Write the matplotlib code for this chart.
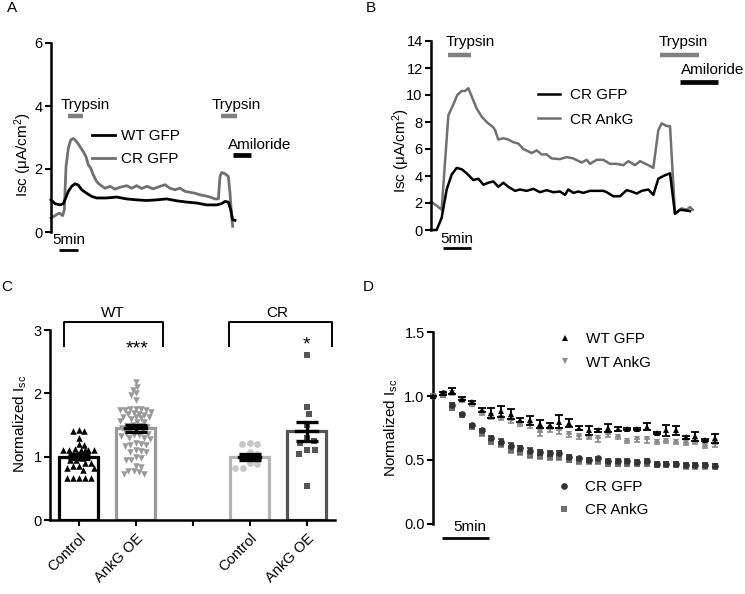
import numpy as np
import matplotlib
matplotlib.use("Agg")
import matplotlib.pyplot as plt

plt.rcParams['font.family'] = ['Liberation Sans', 'DejaVu Sans']
plt.rcParams['mathtext.fontset'] = 'custom'
plt.rcParams['mathtext.rm'] = 'Liberation Sans'
plt.rcParams['mathtext.it'] = 'Liberation Sans:italic'

# ---------------- DATA ----------------
# Panel A (time in min, Isc in uA/cm2)
a_wt_t = [0, 1.05, 2.37, 3.25, 3.86, 4.56, 5.44, 6.32, 7.19, 8.07, 9.39, 10.70, 12.02, 14.65,
          17.28, 19.91, 22.54, 25.18, 27.81, 30.44, 33.07, 35.70, 38.33, 40.96, 43.60, 44.91,
          45.79, 46.67, 47.28, 47.81, 48.42]
a_wt_v = [1.02, 0.90, 0.86, 0.90, 1.08, 1.29, 1.45, 1.53, 1.49, 1.34, 1.23, 1.13, 1.08, 1.08,
          1.11, 1.05, 1.02, 1.00, 1.02, 1.05, 0.99, 0.95, 0.92, 0.86, 0.86, 0.90,
          0.97, 0.95, 0.71, 0.39, 0.37]
a_cr_t = [0, 1.05, 2.19, 3.07, 3.51, 3.95, 4.56, 5.18, 5.88, 6.75, 7.63, 8.51, 9.21, 9.82,
          10.44, 11.14, 12.02, 12.89, 14.21, 15.53, 16.84, 18.16, 19.91, 21.23, 22.54, 23.86,
          25.18, 26.93, 28.68, 30.0, 31.32, 32.63, 33.95, 35.26, 36.58, 37.89, 39.21, 40.53,
          41.84, 43.16, 44.04, 44.47, 44.91, 45.79, 46.67, 47.11, 47.54, 47.81]
a_cr_v = [0.44, 0.52, 0.60, 0.52, 0.71, 2.08, 2.66, 2.92, 2.97, 2.87, 2.71, 2.55, 2.39, 2.13,
          2.03, 1.81, 1.60, 1.50, 1.39, 1.45, 1.36, 1.42, 1.47, 1.39, 1.47, 1.38,
          1.45, 1.37, 1.45, 1.50, 1.39, 1.34, 1.39, 1.29, 1.26, 1.23, 1.18, 1.15,
          1.11, 1.05, 1.05, 1.76, 1.89, 1.85, 1.76, 1.23, 0.50, 0.18]
a_trypsin = [(4.4, 8.3), (44.7, 48.9)]
a_amiloride = (48.0, 52.5)

# Panel B
b_gfp_t = [0, 1.01, 1.90, 2.80, 3.69, 4.58, 5.48, 6.37, 7.56, 8.45, 9.35, 10.24, 11.13, 12.02,
           12.92, 13.81, 15.0, 15.89, 17.08, 18.27, 19.46, 20.65, 21.85, 23.04, 23.93, 24.52,
           25.42, 26.31, 27.20, 28.39, 30.77, 31.37, 32.56, 33.75, 34.94, 35.83, 36.73, 37.62,
           38.81, 39.70, 40.60, 41.49, 42.68, 43.57, 44.46, 45.36, 46.25]
b_gfp_v = [0.0, 0.0, 0.9, 3.0, 4.1, 4.6, 4.5, 4.2, 3.7, 3.8, 3.35, 3.5, 3.6, 3.2,
           3.5, 3.2, 2.9, 3.0, 2.9, 3.05, 2.8, 2.95, 2.8, 2.85, 2.6, 3.0,
           2.75, 2.85, 2.75, 2.9, 2.9, 2.8, 2.5, 2.5, 2.95, 2.85, 2.7, 2.9,
           3.0, 2.6, 3.8, 4.0, 4.2, 1.2, 1.5, 1.45, 1.4]
b_ankg_t = [0, 1.01, 1.90, 3.10, 3.99, 4.70, 5.48, 6.07, 6.67, 7.56, 8.15, 9.05, 9.94, 11.13,
            11.43, 12.02, 12.92, 13.81, 14.70, 15.60, 16.49, 17.98, 18.87, 19.76, 20.65, 21.55,
            23.04, 24.23, 25.42, 26.90, 27.80, 28.39, 29.58, 30.77, 31.96, 33.15, 34.35, 35.24,
            36.43, 37.32, 38.81, 39.70, 40.60, 41.19, 42.08, 42.68, 43.57, 44.76, 45.65, 46.25, 46.73]
b_ankg_v = [2.1, 1.8, 1.5, 8.5, 9.3, 10.0, 10.3, 10.3, 10.5, 9.6, 9.0, 8.4, 8.0, 7.6,
            7.4, 6.7, 6.8, 6.7, 6.5, 6.4, 6.0, 5.7, 5.9, 5.6, 5.6, 5.3,
            5.25, 5.4, 5.3, 5.0, 5.2, 4.9, 5.2, 5.2, 4.9, 4.9, 4.8, 5.1,
            4.8, 5.1, 4.8, 4.6, 7.4, 7.9, 7.7, 7.7, 1.2, 1.6, 1.5, 1.7, 1.5]
b_trypsin = [(3.0, 7.1), (40.9, 47.9)]
b_amiloride = (44.5, 51.3)

# Panel C
c_labels = ['Control', 'AnkG OE', '', 'Control', 'AnkG OE']
c_means = [1.00, 1.45, None, 1.00, 1.40]
c_sems = [0.04, 0.055, None, 0.05, 0.15]
c_wt_ctrl = [1.42, 1.40, 1.40, 1.30, 1.20, 1.18, 1.12, 1.10, 1.10, 1.10, 1.10, 1.10, 1.10,
             1.05, 0.98, 0.95, 0.95, 0.90, 0.90, 0.86, 0.86, 0.82, 0.82, 0.79,
             0.66, 0.66, 0.66, 0.66, 0.66]
c_wt_ankg = [2.18, 2.10, 2.06, 2.00, 1.98, 1.90, 1.76, 1.75, 1.75, 1.74, 1.74, 1.73, 1.70,
             1.69, 1.68, 1.67, 1.66, 1.63, 1.62, 1.62, 1.61, 1.60, 1.56, 1.55, 1.54, 1.50,
             1.49, 1.48, 1.47, 1.45, 1.43, 1.42, 1.40, 1.38, 1.36, 1.35, 1.34, 1.33, 1.30,
             1.29, 1.28, 1.21, 1.20, 1.19, 1.18, 1.17, 1.10, 1.09, 1.08, 1.07, 1.00, 0.98,
             0.95, 0.94, 0.86, 0.84, 0.78, 0.77, 0.76, 0.72, 0.72]
c_cr_ctrl = [1.21, 1.20, 1.20, 1.07, 1.05, 1.00, 0.90, 0.88, 0.82, 0.82]
c_cr_ankg = [2.61, 1.79, 1.67, 1.50, 1.30, 1.24, 1.22, 1.10, 1.10, 1.05, 0.53]

# Panel D (normalized Isc vs time, min)
d_t = list(range(30))
d_wt_gfp = [1.00, 1.02, 1.04, 0.98, 0.95, 0.89, 0.87, 0.88, 0.86, 0.81, 0.81, 0.78, 0.77, 0.80,
            0.79, 0.75, 0.73, 0.73, 0.75, 0.74, 0.74, 0.74, 0.76, 0.71, 0.73, 0.73, 0.675,
            0.685, 0.655, 0.67]
d_wt_gfp_err = [0.0, 0.01, 0.025, 0.01, 0.01, 0.015, 0.04, 0.045, 0.04, 0.015, 0.035, 0.03,
                0.02, 0.05, 0.03, 0.015, 0.035, 0.015, 0.03, 0.015, 0.01, 0.01, 0.025, 0.01,
                0.04, 0.035, 0.01, 0.035, 0.01, 0.035]
d_wt_ankg = [1.00, 1.01, 1.02, 0.96, 0.93, 0.87, 0.84, 0.83, 0.81, 0.78, 0.77, 0.72, 0.74, 0.73,
             0.70, 0.69, 0.68, 0.67, 0.70, 0.68, 0.65, 0.66, 0.66, 0.64, 0.65, 0.64, 0.63,
             0.64, 0.61, 0.62]
d_wt_ankg_err = [0.0, 0.01, 0.015, 0.01, 0.01, 0.015, 0.02, 0.02, 0.02, 0.015, 0.02, 0.03,
                 0.02, 0.03, 0.02, 0.03, 0.02, 0.03, 0.02, 0.015, 0.02, 0.02, 0.03, 0.015,
                 0.02, 0.02, 0.015, 0.02, 0.015, 0.02]
d_cr_gfp = [1.00, 1.02, 0.93, 0.86, 0.77, 0.73, 0.67, 0.64, 0.61, 0.59, 0.57, 0.56, 0.55, 0.55,
            0.52, 0.51, 0.50, 0.51, 0.49, 0.49, 0.49, 0.48, 0.49, 0.47, 0.47, 0.47, 0.46,
            0.46, 0.46, 0.455]
d_cr_gfp_err = [0.0, 0.01, 0.015, 0.01, 0.01, 0.015, 0.015, 0.02, 0.02, 0.02, 0.02, 0.02,
                0.02, 0.015, 0.015, 0.015, 0.015, 0.015, 0.015, 0.015, 0.015, 0.015, 0.015,
                0.015, 0.015, 0.015, 0.015, 0.015, 0.015, 0.015]
d_cr_ankg = [1.00, 1.01, 0.91, 0.85, 0.76, 0.71, 0.64, 0.62, 0.58, 0.56, 0.54, 0.53, 0.52, 0.52,
             0.50, 0.49, 0.49, 0.49, 0.47, 0.47, 0.47, 0.47, 0.47, 0.46, 0.46, 0.46, 0.45,
             0.45, 0.45, 0.45]
d_cr_ankg_err = [0.0, 0.01, 0.02, 0.015, 0.015, 0.02, 0.02, 0.02, 0.025, 0.025, 0.025, 0.025,
                 0.025, 0.02, 0.02, 0.02, 0.02, 0.02, 0.02, 0.02, 0.02, 0.02, 0.02, 0.02,
                 0.02, 0.02, 0.02, 0.02, 0.02, 0.02]

# ---------------- FIGURE ----------------
W, H = 745, 594
fig = plt.figure(figsize=(W / 100, H / 100), dpi=100)


def ax_px(l, b, r, t):
    return fig.add_axes([l / W, 1 - b / H, (r - l) / W, (b - t) / H])


SP_LW = 1.8
TICK_FS = 10.5
LAB_FS = 11


def style(ax, bottom=False):
    for s in ['top', 'right']:
        ax.spines[s].set_visible(False)
    ax.spines['left'].set_linewidth(SP_LW)
    if not bottom:
        ax.spines['bottom'].set_visible(False)
        ax.set_xticks([])
    else:
        ax.spines['bottom'].set_linewidth(SP_LW)
    ax.tick_params(axis='both', width=1.5, length=4, labelsize=TICK_FS, pad=2)
    ax.set_facecolor('none')


GRAY_TR = '#707070'

# ---------- Panel A ----------
axA = ax_px(51, 232, 281, 43)
style(axA)
axA.set_xlim(0, 230 / 3.8)
axA.set_ylim(0, 6)
axA.set_yticks([0, 2, 4, 6])
lA1, = axA.plot(a_wt_t, a_wt_v, color='black', lw=2.0, clip_on=False, zorder=3)
lA2, = axA.plot(a_cr_t, a_cr_v, color=GRAY_TR, lw=2.0, clip_on=False, zorder=2)
for (s, e) in a_trypsin:
    axA.plot([s, e], [3.68, 3.68], color='#808080', lw=3.2, solid_capstyle='butt')
axA.plot(list(a_amiloride), [2.44, 2.44], color='black', lw=3.4, solid_capstyle='butt')
axA.text(2.6, 4.03, 'Trypsin', fontsize=LAB_FS, ha='left', va='center')
axA.text(42.4, 4.03, 'Trypsin', fontsize=LAB_FS, ha='left', va='center')
axA.text(46.7, 2.75, 'Amiloride', fontsize=LAB_FS, ha='left', va='center')
axA.plot([2.2, 7.2], [-0.57, -0.57], color='black', lw=2, clip_on=False, solid_capstyle='butt')
axA.text(4.7, -0.25, '5min', fontsize=LAB_FS, ha='center', va='center')
axA.set_ylabel('Isc (μA/cm$\\mathregular{^2}$)', fontsize=LAB_FS)
axA.yaxis.set_label_coords(-0.072, 0.41)
axA.legend([lA1, lA2], ['WT GFP', 'CR GFP'], loc='upper left', bbox_to_anchor=(0.178, 0.545),
           frameon=False, fontsize=LAB_FS, handlelength=1.5, handletextpad=0.4,
           labelspacing=0.62, borderpad=0, borderaxespad=0)

# ---------- Panel B ----------
axB = ax_px(431, 230, 741, 41)
style(axB)
axB.set_xlim(0, 310 / 5.6)
axB.set_ylim(0, 14)
axB.set_yticks(range(0, 15, 2))
lB1, = axB.plot(b_gfp_t, b_gfp_v, color='black', lw=1.8, clip_on=False, zorder=3)
lB2, = axB.plot(b_ankg_t, b_ankg_v, color=GRAY_TR, lw=1.8, clip_on=False, zorder=2)
for (s, e) in b_trypsin:
    axB.plot([s, e], [13.0, 13.0], color='#808080', lw=3.2, solid_capstyle='butt', clip_on=False)
axB.plot(list(b_amiloride), [11.0, 11.0], color='black', lw=3.4, solid_capstyle='butt', clip_on=False)
axB.text(2.6, 13.95, 'Trypsin', fontsize=LAB_FS, ha='left', va='center')
axB.text(40.7, 13.95, 'Trypsin', fontsize=LAB_FS, ha='left', va='center')
axB.text(44.6, 11.85, 'Amiloride', fontsize=LAB_FS, ha='left', va='center')
axB.plot([2.1, 7.1], [-1.36, -1.36], color='black', lw=2, clip_on=False, solid_capstyle='butt')
axB.text(4.6, -0.65, '5min', fontsize=LAB_FS, ha='center', va='center')
axB.set_ylabel('Isc (μA/cm$\\mathregular{^2}$)', fontsize=LAB_FS)
axB.yaxis.set_label_coords(-0.062, 0.42)
axB.legend([lB1, lB2], ['CR GFP', 'CR AnkG'], loc='upper left', bbox_to_anchor=(0.346, 0.752),
           frameon=False, fontsize=LAB_FS, handlelength=1.45, handletextpad=0.65,
           labelspacing=0.7, borderpad=0, borderaxespad=0)

# ---------- Panel C ----------
axC = ax_px(50, 520, 335, 330)
style(axC, bottom=True)
axC.set_xlim(-0.5, 4.5)
axC.set_ylim(0, 3)
axC.set_yticks([0, 1, 2, 3])
axC.set_xticks(range(5))
axC.set_xticklabels(c_labels, rotation=45, ha='right', va='top', rotation_mode='anchor',
                    fontsize=TICK_FS)
axC.tick_params(axis='x', pad=4)

XPX = 57.0   # px per category
YPX = 63.3   # px per unit
MAXW = 16.0  # max half-width of a swarm (px)


def swarm(vals, d):
    vals = np.asarray(vals, float)
    order = np.argsort(-vals)
    placed = []
    offs = np.zeros(len(vals))
    for i in order:
        y = vals[i] * YPX
        cands = [0.0]
        for (px, py) in placed:
            dy = py - y
            if abs(dy) < d:
                dx = np.sqrt(d * d - dy * dy)
                cands += [px + dx, px - dx]
        cands = sorted([c for c in cands if abs(c) <= MAXW], key=abs)
        chosen = None
        for c in cands:
            if all((c - px) ** 2 + (y - py) ** 2 >= d * d - 1e-6 for (px, py) in placed):
                chosen = c
                break
        if chosen is None:
            grid = np.linspace(-MAXW, MAXW, 33)
            score = [min(((g - px) ** 2 + (y - py) ** 2) for (px, py) in placed) for g in grid]
            chosen = grid[int(np.argmax(score))]
        placed.append((chosen, y))
        offs[i] = chosen / XPX
    return offs


bar_edges = ['black', '#9a9a9a', None, '#b4b4b4', '#555555']
groups = [(0, c_wt_ctrl, '^', 'black', 6.0, 22),
          (1, c_wt_ankg, 'v', '#9a9a9a', 5.4, 22),
          (3, c_cr_ctrl, 'o', '#c8c8c8', 8.0, 24),
          (4, c_cr_ankg, 's', '#555555', 8.0, 22)]
for i, m in enumerate(c_means):
    if m is None:
        continue
    axC.bar(i, m, width=0.68, color='white', edgecolor=bar_edges[i], linewidth=2.3, zorder=1)
for (pos, vals, mk, col, d, s) in groups:
    offs = swarm(vals, d)
    axC.scatter(pos + offs, vals, marker=mk, s=s, color=col, linewidths=0, zorder=2,
                clip_on=False)
for i, m in enumerate(c_means):
    if m is None:
        continue
    axC.errorbar(i, m, yerr=c_sems[i], color='black', elinewidth=2.4, capsize=8, capthick=2.4,
                 zorder=4)
    axC.plot([i - 0.19, i + 0.19], [m, m], color='black', lw=2.4, zorder=4)

# brackets
for (x0, x1, lab, xl) in [(-0.26, 1.49, 'WT', 0.61), (2.64, 4.45, 'CR', 3.49)]:
    axC.plot([x0, x0, x1, x1], [2.75, 3.12, 3.12, 2.75], color='black', lw=1.4, clip_on=False)
    axC.text(xl, 3.27, lab, fontsize=LAB_FS, ha='center', va='center')
axC.text(1.03, 2.70, '***', fontsize=14, ha='center', va='center')
axC.text(4.0, 2.77, '*', fontsize=14, ha='center', va='center')
axC.set_ylabel('Normalized I$_{\\mathregular{sc}}$', fontsize=LAB_FS)
axC.yaxis.set_label_coords(-0.072, 0.505)

# ---------- Panel D ----------
axD = ax_px(433, 523.5, 724.6, 332.3)
style(axD)
axD.set_xlim(0, 30)
axD.set_ylim(0, 1.5)
axD.set_yticks([0, 0.5, 1.0, 1.5])
axD.set_yticklabels(['0.0', '0.5', '1.0', '1.5'])
t = np.asarray(d_t)
axD.errorbar(t, d_cr_ankg, yerr=d_cr_ankg_err, fmt='none', ecolor='#7a7a7a', elinewidth=1.2,
             capsize=2.5, capthick=1.2, zorder=2, clip_on=False)
hD4, = axD.plot(t, d_cr_ankg, 's', color='#6e6e6e', ms=5, mew=0, zorder=3, clip_on=False)
axD.errorbar(t, d_cr_gfp, yerr=d_cr_gfp_err, fmt='none', ecolor='#333333', elinewidth=1.2,
             capsize=2.5, capthick=1.2, zorder=4, clip_on=False)
hD3, = axD.plot(t, d_cr_gfp, 'o', color='#333333', ms=4.8, mew=0, zorder=5, clip_on=False)
axD.errorbar(t, d_wt_ankg, yerr=[d_wt_ankg_err, [0] * 30], fmt='none', ecolor='#8a8a8a',
             elinewidth=1.2, capsize=2.5, capthick=1.2, zorder=6, clip_on=False)
hD2, = axD.plot(t, d_wt_ankg, 'v', color='#8a8a8a', ms=4.5, mew=0, zorder=7, clip_on=False)
axD.errorbar(t, d_wt_gfp, yerr=d_wt_gfp_err, fmt='none', ecolor='black', elinewidth=1.3,
             capsize=2.8, capthick=1.3, zorder=8, clip_on=False)
hD1, = axD.plot(t, d_wt_gfp, '^', color='black', ms=4.5, mew=0, zorder=9, clip_on=False)
axD.plot([0.95, 5.75], [-0.114, -0.114], color='black', lw=2, clip_on=False,
         solid_capstyle='butt')
axD.text(3.8, -0.025, '5min', fontsize=LAB_FS, ha='center', va='center')
axD.set_ylabel('Normalized I$_{\\mathregular{sc}}$', fontsize=LAB_FS)
axD.yaxis.set_label_coords(-0.113, 0.50)
legW = axD.legend([hD1, hD2], ['WT GFP', 'WT AnkG'], loc='upper left',
                  bbox_to_anchor=(0.425, 1.0), frameon=False, fontsize=LAB_FS,
                  handlelength=1.0, handletextpad=0.9, labelspacing=0.62, numpoints=1,
                  borderpad=0, borderaxespad=0)
axD.add_artist(legW)
axD.legend([hD3, hD4], ['CR GFP', 'CR AnkG'], loc='upper left',
           bbox_to_anchor=(0.423, 0.228), frameon=False, fontsize=LAB_FS,
           handlelength=1.0, handletextpad=0.9, labelspacing=0.62, numpoints=1,
           borderpad=0, borderaxespad=0)

# Panel letters
for (lx, ly, L) in [(7, 8, 'A'), (366, 8, 'B'), (1, 287, 'C'), (363, 287, 'D')]:
    fig.text(lx / W, 1 - ly / H, L, fontsize=LAB_FS, ha='left', va='center')

fig.savefig('out.png', dpi=100)
